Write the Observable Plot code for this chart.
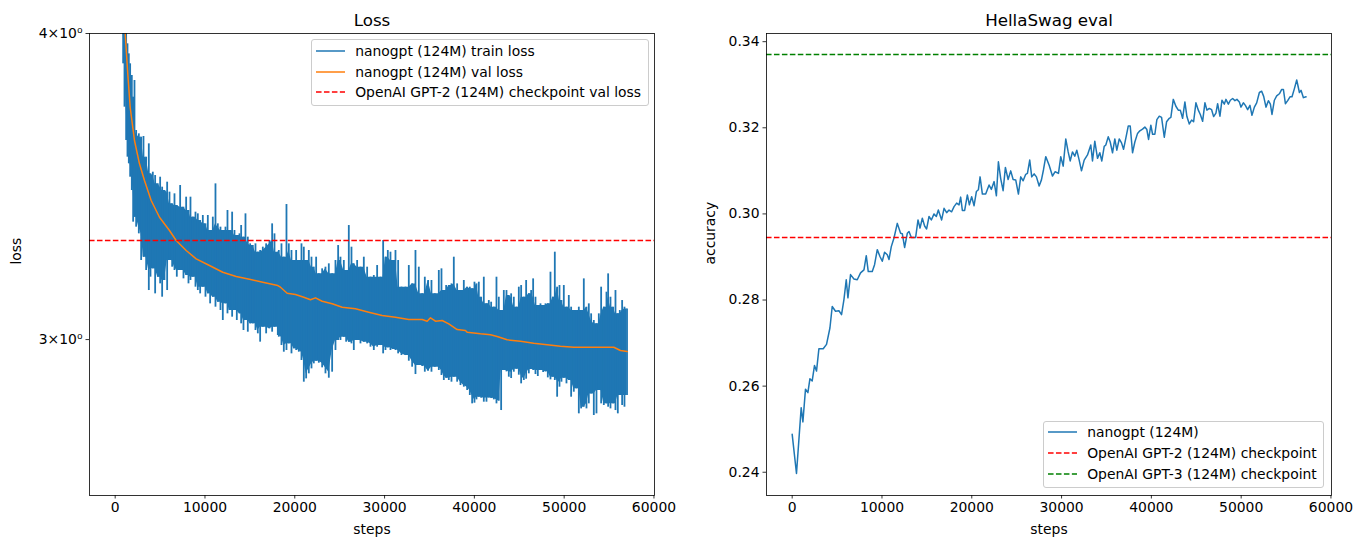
<!DOCTYPE html>
<html><head><meta charset="utf-8">
<script src="https://cdn.jsdelivr.net/npm/d3@7"></script>
<script src="https://cdn.jsdelivr.net/npm/@observablehq/plot@0.6"></script>
<style>
body{margin:0;background:#fff;}
#wrap{position:relative;width:1359px;height:547px;font-family:"DejaVu Sans",sans-serif;overflow:hidden;}
.panel{position:absolute;top:0;}
.legend{position:absolute;border:1px solid #cccccc;border-radius:3px;background:rgba(255,255,255,0.8);box-sizing:border-box;font-size:13.9px;color:#000;}
.legend .row{position:absolute;height:20px;display:flex;align-items:center;white-space:nowrap;transform:translateY(-50%);}
.legend svg{display:block;}
</style></head>
<body><div id="wrap"></div>
<script>
// ---------- data ----------
const trainStep = [0,739,887,1036,1221,1370,1518,1667,1852,2001,2149,2335,2632,2892,3151,3448,3745,3931,4191,4450,4748,5007,5230,5490,5787,6047,6344,6604,6863,7235,7606,7903,8163,8385,8645,8942,9202,9462,9759,10056,10316,10575,10872,11169,11429,11726,11986,12283,12506,12728,13025,13285,13545,13842,14028,14287,14510,14770,15030,15327,15624,15884,16143,16440,16812,17183,17480,17740,18111,
18222,18519,18779,19076,19336,19633,19893,20153,20450,20746,21006,21266,21563,21860,22120,22380,22677,23048,23419,23790,24161,24533,24830,25089,25461,25720,26017,26314,26574,26945,27317,27688,28059,28430,28801,29173,29544,29841,30101,30361,30657,30917,31214,31511,31882,32328,32699,33070,33441,33813,34184,34481,34852,35223,35595,36040,36337,36597,36857,37153,37450,37710,38082,38453,38824,
39195,39492,39752,40012,40235,40495,40754,41051,41348,41608,41868,42165,42462,42722,42982,43279,43576,43835,44095,44392,44689,44949,45209,45506,45766,46063,46322,46545,46805,47065,47362,47659,47919,48178,48475,48735,48958,49218,49478,49700,49960,50257,50517,50777,51074,51371,51631,51890,52187,52484,52744,53004,53301,53598,53858,54118,54415,54712,54897,55157,55454,55714,55974,56196,56456,56716,57000];
const trainHigh = [10.95,4.3,4.3,4.3,4.3,3.9614,3.9242,3.8876,3.8452,3.7676,3.8271,3.6514,3.6400,3.6286,3.6309,3.5610,3.6059,3.5056,3.5111,3.5001,3.4728,3.4946,3.4620,3.4511,3.4783,3.4458,3.4082,3.4404,3.4029,3.4674,3.3975,3.4296,3.3869,3.4296,3.3658,3.3816,3.3763,3.3552,3.3710,3.3447,3.3710,3.3238,3.3658,3.4728,3.3447,3.3343,3.3238,3.3343,3.3869,3.3238,3.3816,3.3238,3.3083,3.3134,3.3395,3.3031,3.3763,3.3031,3.2824,3.2773,3.2824,3.2568,3.2619,3.2722,3.2824,3.2928,3.3447,3.3134,3.2568,
3.2619,3.2824,3.2415,3.4060,3.2824,3.2619,3.2314,3.2619,3.2314,3.2824,3.2721,3.2314,3.2619,3.2415,3.2112,3.2415,3.1911,3.2062,3.2112,3.2213,3.1911,3.2314,3.2772,3.2415,3.2314,3.2012,3.3394,3.2721,3.2213,3.2314,3.2112,3.2415,3.2112,3.1811,3.1861,3.2162,3.1811,3.2927,3.2415,3.2619,3.2568,3.2314,3.2619,3.2314,3.1514,3.1514,3.2162,3.1612,3.2619,3.2112,3.1317,3.1811,3.1712,3.1712,3.1317,3.2012,3.2062,3.1415,3.1563,3.1563,3.1612,3.2415,3.1612,3.1415,3.1712,
3.1514,3.1514,3.1464,3.1662,3.1612,3.1662,3.1218,3.1811,3.1024,3.1121,3.1072,3.0927,3.1811,3.1218,3.0830,3.1415,3.1415,3.1268,3.1317,3.1218,3.0927,3.1514,3.1563,3.1218,3.1712,3.1317,3.1415,3.1761,3.1218,3.0975,3.1024,3.0975,3.1024,3.1024,3.1961,3.1218,3.2568,3.1514,3.1563,3.1121,3.1563,3.0927,3.1268,3.0927,3.0830,3.0830,3.0927,3.0830,3.1761,3.0927,3.1024,3.0734,3.0542,3.0446,3.0734,3.1514,3.0927,3.1366,3.1911,3.1218,3.0927,3.1415,3.0734,3.0830,3.1121,3.0927,3.0878];
const trainLow = [10.95,4.01,3.8876,3.7324,3.6172,3.5610,3.5388,3.4946,3.4511,3.3500,3.3658,3.3343,3.3134,3.2314,3.2416,3.2012,3.1415,3.1812,3.2062,3.1317,3.1812,3.1613,3.1219,3.1712,3.1415,3.2314,3.2112,3.2012,3.1812,3.2012,3.1762,3.1861,3.1613,3.1712,3.1812,3.1514,3.1415,3.1317,3.1514,3.1219,3.1317,3.1024,3.1219,3.0927,3.1073,3.0831,3.0542,3.1024,3.0734,3.0831,3.0638,3.0831,3.0542,3.0734,3.0447,3.0256,3.0542,3.0209,3.0447,3.0447,3.0256,3.0162,2.9927,3.0351,3.0162,3.0304,3.0209,3.0351,3.0114,
3.0067,2.9832,2.9646,2.9693,2.9879,2.9600,2.9740,2.9693,2.9646,2.9415,2.8822,2.8912,2.9049,2.9185,2.9323,2.9396,2.9341,2.9213,2.9049,2.8930,2.9094,2.9693,2.9973,2.9973,3.0067,2.9926,2.9926,2.9879,2.9693,2.9973,2.9879,2.9926,2.9879,2.9786,2.9693,2.9786,2.9832,2.9600,2.9693,2.9767,2.9693,2.9720,2.9693,2.9600,2.9553,2.9553,2.9396,2.9231,2.9030,2.9277,2.9249,2.9094,2.9121,2.9094,2.9231,2.9140,2.9004,2.8867,2.8930,2.8867,2.8822,2.8958,2.8822,2.8731,2.8687,
2.8597,2.8463,2.8241,2.8259,2.8347,2.8418,2.8391,2.8285,2.8285,2.8400,2.8382,2.8347,2.8241,2.8312,2.8064,2.9140,2.9103,2.8958,2.8921,2.9094,2.9176,2.9012,2.8777,2.8867,2.8903,2.9049,2.9167,2.9140,2.9030,2.8976,2.9140,2.9085,2.9103,2.8939,2.8885,2.8958,2.8867,2.8418,2.8687,2.8822,2.8930,2.8777,2.8867,2.8418,2.8552,2.8642,2.7977,2.8108,2.8152,2.8108,2.8241,2.8507,2.7933,2.7977,2.8597,2.8241,2.8197,2.8241,2.8152,2.8108,2.8241,2.8064,2.7977,2.8463,2.8197,2.8152,2.8463];

const valStep = [0,1114,1403,1670,2149,2706,3263,4009,4933,6047,6793,7907,9020,10501,11982,13475,14956,16437,18107,18408,19154,20078,21003,21749,22306,23052,24165,25279,26760,28241,29733,31214,32695,34188,34744,35112,35669,36415,37150,38085,39009,39198,40679,41793,42539,43653,45134,46615,48107,49588,51069,52561,54043,55524,56270,57016];
const valLoss = [10.95,4.0,3.8513,3.7322,3.6172,3.5388,3.4837,3.4188,3.3656,3.3238,3.2927,3.2619,3.2365,3.2162,3.1960,3.1831,3.1750,3.1661,3.1563,3.1513,3.1336,3.1297,3.1218,3.1142,3.1200,3.1101,3.1025,3.0926,3.0880,3.0781,3.0686,3.0637,3.0571,3.0571,3.0522,3.0620,3.0522,3.0542,3.0447,3.0285,3.0256,3.0208,3.0162,3.0134,3.0086,2.9993,2.9954,2.9897,2.9852,2.9813,2.9785,2.9785,2.9785,2.9785,2.9692,2.9664];
const gpt2ValLoss = 3.2924;

const hsStep = [0,479,1003,1193,1483,1750,1973,2230,2486,2709,2977,3456,3824,4203,4459,4827,5206,5496,5764,6020,6209,6499,6878,7246,7614,7993,8250,8472,8918,9175,9476,9777,10033,10290,10591,10781,11037,11338,11705,12073,12263,12519,12820,13010,13266,13746,14013,14236,14492,14749,14972,15239,15496,15797,16053,16276,16644,16912,17201,17469,17759,18026,18316,18584,18762,18952,19208,19509,19732,19988,20256,20512,20735,20925,21181,21549,21928,22185,22486,22742,22965,23221,23489,23745,24046,24336,24604,24894,25194,25451,25719,26008,26198,26454,26677,26945,27201,27502,27759,27981,28238,28617,28985,29286,29654,29910,30178,30467,30735,30958,31214,31471,31694,31961,32218,32519,32887,33255,33444,33701,34002,34258,34481,34749,34927,35194,35417,35674,35930,36153,36421,36677,36900,37156,37424,37647,37903,38160,38461,38717,39018,39275,39498,39687,39943,40133,40389,40612,40880,41136,41437,41693,41994,42173,42440,42730,42998,43221,43477,43734,43957,44224,44481,44704,44960,45228,45451,45707,45963,46186,46454,46710,46933,47190,47379,47636,47859,48126,48305,48572,48795,49051,49308,49531,49798,49977,50244,50467,50723,50980,51203,51470,51727,52028,52284,52507,52763,53031,53254,53432,53700,53956,54257,54514,54703,54926,55182,55439,55662,55929,56186,56487,56665,56933,57223];
const hsAcc = [0.2488,0.2397,0.2550,0.2517,0.2593,0.2585,0.2617,0.2612,0.2648,0.2635,0.2687,0.2687,0.2697,0.2735,0.2785,0.2774,0.2775,0.2766,0.2801,0.2847,0.2805,0.2859,0.2849,0.2847,0.2863,0.2870,0.2903,0.2866,0.2866,0.2882,0.2917,0.2901,0.2890,0.2911,0.2905,0.2894,0.2924,0.2944,0.2978,0.2955,0.2954,0.2922,0.2955,0.2959,0.2945,0.2945,0.2986,0.2967,0.2990,0.2972,0.2965,0.2994,0.2986,0.3000,0.2994,0.3009,0.2986,0.3013,0.3003,0.3009,0.3005,0.3017,0.3025,0.3021,0.3039,0.3008,0.3008,0.3044,0.3021,0.3040,0.3019,0.3052,0.3056,0.3086,0.3046,0.3046,0.3067,0.3057,0.3075,0.3042,0.3121,0.3082,0.3054,0.3108,0.3080,0.3100,0.3080,0.3079,0.3046,0.3086,0.3077,0.3092,0.3094,0.3125,0.3086,0.3093,0.3086,0.3065,0.3079,0.3102,0.3133,0.3113,0.3088,0.3098,0.3094,0.3133,0.3111,0.3174,0.3144,0.3123,0.3144,0.3134,0.3148,0.3125,0.3100,0.3125,0.3137,0.3160,0.3123,0.3169,0.3129,0.3142,0.3123,0.3157,0.3160,0.3179,0.3167,0.3142,0.3174,0.3148,0.3174,0.3165,0.3150,0.3176,0.3204,0.3204,0.3142,0.3167,0.3187,0.3193,0.3197,0.3202,0.3196,0.3173,0.3206,0.3185,0.3185,0.3219,0.3227,0.3224,0.3178,0.3214,0.3222,0.3224,0.3266,0.3250,0.3241,0.3241,0.3222,0.3260,0.3226,0.3209,0.3218,0.3214,0.3258,0.3241,0.3231,0.3215,0.3258,0.3241,0.3245,0.3242,0.3226,0.3234,0.3256,0.3227,0.3264,0.3255,0.3266,0.3255,0.3264,0.3268,0.3263,0.3266,0.3260,0.3248,0.3258,0.3252,0.3242,0.3252,0.3229,0.3248,0.3258,0.3282,0.3285,0.3273,0.3248,0.3263,0.3255,0.3231,0.3264,0.3274,0.3279,0.3289,0.3289,0.3256,0.3263,0.3272,0.3272,0.3291,0.3311,0.3282,0.3287,0.3270,0.3272];
const gpt2Hella = 0.2945;
const gpt3Hella = 0.337;

const stepTicks = [0,10000,20000,30000,40000,50000,60000];
const lossTicks = [3,4];
const lossTickLabels = ["3×10⁰","4×10⁰"];
const accTicks = [0.24,0.26,0.28,0.30,0.32,0.34];

const lossLegend = ["nanogpt (124M) train loss","nanogpt (124M) val loss","OpenAI GPT-2 (124M) checkpoint val loss"];
const hellaLegend = ["nanogpt (124M)","OpenAI GPT-2 (124M) checkpoint","OpenAI GPT-3 (124M) checkpoint"];

// ---------- build ----------
const BLUE = "#1f77b4", ORANGE = "#ff7f0e", RED = "#ff0000", GREEN = "#008000";
const DASH = "5.55,2.4";
const n = trainStep.length;
// body of the noisy band: neighbourhood envelope (spikes drawn separately as thin rules)
const trainRows = trainStep.map((s,i)=>{
  const a = Math.max(0,i-1), b = Math.min(n-1,i+1);
  return {
    step:s, hi:trainHigh[i], lo:trainLow[i],
    bodyHi: Math.min(trainHigh[a], trainHigh[i], trainHigh[b]),
    bodyLo: Math.max(trainLow[a], trainLow[i], trainLow[b])
  };
});
trainRows.forEach(r => { if (r.bodyLo > r.bodyHi) { const m = (r.bodyLo + r.bodyHi)/2; r.bodyLo = m; r.bodyHi = m; } });
const valRows = valStep.map((s,i)=>({step:s, loss:valLoss[i]}));
const hsRows = hsStep.map((s,i)=>({step:s, acc:hsAcc[i]}));
const style = {fontFamily:'"DejaVu Sans", sans-serif', fontSize:"13.9px", color:"black", background:"transparent", overflow:"visible"};
const xDomain = [-2860, 60060];

const left = Plot.plot({
  width:680, height:547, marginLeft:89, marginRight:26, marginTop:33, marginBottom:52,
  style,
  x:{domain:xDomain},
  y:{type:"log", domain:[2.591, 4.0]},
  marks:[
    Plot.areaY(trainRows, {x:"step", y1:"bodyLo", y2:"bodyHi", fill:BLUE, clip:true}),
    Plot.ruleX(trainRows, {x:"step", y1:"lo", y2:"hi", stroke:BLUE, strokeWidth:1.8, clip:true}),
    Plot.line(valRows, {x:"step", y:"loss", stroke:ORANGE, strokeWidth:1.5, clip:true}),
    Plot.ruleY([gpt2ValLoss], {stroke:RED, strokeWidth:1.5, strokeDasharray:DASH}),
    Plot.frame({stroke:"black", strokeWidth:0.8}),
    Plot.axisX(stepTicks, {tickSize:3.5, tickPadding:3.5, tickFormat:d=>String(d), label:null, strokeWidth:0.8}),
    Plot.axisY(lossTicks, {tickSize:3.5, tickPadding:3.5, tickFormat:d=>lossTickLabels[lossTicks.indexOf(d)], label:null, strokeWidth:0.8}),
    Plot.text(["Loss"], {frameAnchor:"top", dy:-19.5, fontSize:16.7}),
    Plot.text(["steps"], {frameAnchor:"bottom", dy:38}),
    Plot.text(["loss"], {frameAnchor:"left", dx:-73, rotate:-90})
  ]
});

const right = Plot.plot({
  width:679, height:547, marginLeft:86, marginRight:28, marginTop:33, marginBottom:52,
  style,
  x:{domain:xDomain},
  y:{domain:[0.2346, 0.3419]},
  marks:[
    Plot.line(hsRows, {x:"step", y:"acc", stroke:BLUE, strokeWidth:1.5, clip:true}),
    Plot.ruleY([gpt2Hella], {stroke:RED, strokeWidth:1.5, strokeDasharray:DASH}),
    Plot.ruleY([gpt3Hella], {stroke:GREEN, strokeWidth:1.5, strokeDasharray:DASH}),
    Plot.frame({stroke:"black", strokeWidth:0.8}),
    Plot.axisX(stepTicks, {tickSize:3.5, tickPadding:3.5, tickFormat:d=>String(d), label:null, strokeWidth:0.8}),
    Plot.axisY(accTicks, {tickSize:3.5, tickPadding:3.5, tickFormat:d3.format(".2f"), label:null, strokeWidth:0.8}),
    Plot.text(["HellaSwag eval"], {frameAnchor:"top", dy:-19.5, fontSize:16.7}),
    Plot.text(["steps"], {frameAnchor:"bottom", dy:38}),
    Plot.text(["accuracy"], {frameAnchor:"left", dx:-55.5, rotate:-90})
  ]
});

const wrap = document.getElementById("wrap");
left.classList.add("panel"); left.style.left = "0px";
right.classList.add("panel"); right.style.left = "680px";
wrap.appendChild(left); wrap.appendChild(right);

function legend(labels, colors, dashed, box) {
  const div = document.createElement("div");
  div.className = "legend";
  Object.assign(div.style, {left:box.left+"px", top:box.top+"px", width:box.width+"px", height:box.height+"px"});
  const rowsY = [10.5, 31.3, 52];
  labels.forEach((lab, i) => {
    const row = document.createElement("div");
    row.className = "row";
    row.style.left = "4px";
    row.style.top = rowsY[i] + "px";
    const ns = "http://www.w3.org/2000/svg";
    const svg = document.createElementNS(ns, "svg");
    svg.setAttribute("width", "29"); svg.setAttribute("height", "4");
    const ln = document.createElementNS(ns, "line");
    ln.setAttribute("x1", "0"); ln.setAttribute("x2", "29"); ln.setAttribute("y1", "2"); ln.setAttribute("y2", "2");
    ln.setAttribute("stroke", colors[i]); ln.setAttribute("stroke-width", "1.5");
    if (dashed[i]) ln.setAttribute("stroke-dasharray", DASH);
    svg.appendChild(ln);
    row.appendChild(svg);
    const t = document.createElement("span");
    t.textContent = lab;
    t.style.marginLeft = "10.5px";
    row.appendChild(t);
    div.appendChild(row);
  });
  wrap.appendChild(div);
}
legend(lossLegend, [BLUE, ORANGE, RED], [false,false,true], {left:310.7, top:39.3, width:338, height:67});
legend(hellaLegend, [BLUE, RED, GREEN], [false,true,true], {left:1042.7, top:420.7, width:281.5, height:67});
</script>
</body></html>
